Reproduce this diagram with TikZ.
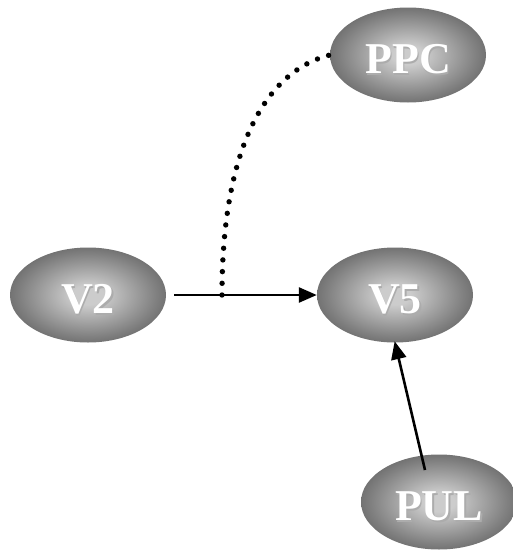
\documentclass[tikz,border=0pt]{standalone}
\usepackage{fontspec}
\setmainfont{Liberation Serif}
\usetikzlibrary{shapes.geometric,arrows.meta}

% grey glow used to fill the brain-area ellipses
\definecolor{areaCore}{gray}{0.80}
\definecolor{areaMid}{gray}{0.50}
\definecolor{areaRim}{gray}{0.27}
\pgfdeclareradialshading{cortex}{\pgfpointorigin}{%
  color(0bp)=(areaCore); color(5bp)=(areaCore);
  color(22bp)=(areaMid); color(36bp)=(areaRim); color(50bp)=(areaRim)}

% white bold label with a soft grey drop shadow
\newcommand{\arealabel}[1]{%
  \makebox[0pt][l]{\kern1.6pt\raisebox{-1.6pt}{\textcolor{gray!65}{#1}}}%
  \textcolor{white}{#1}}

\tikzset{
  area/.style={ellipse, minimum width=156pt, minimum height=95pt,
    inner sep=0pt, shading=cortex, font=\bfseries\fontsize{44}{44}\selectfont,
    text height=37pt, text depth=0pt},
  link/.style={line width=2.6pt, -{Triangle[length=18pt,width=15pt]}},
  dotline/.style={line width=5.4pt, line cap=round,
    dash pattern=on 0pt off 11.7pt}
}

\begin{document}
\begin{tikzpicture}[x=1pt,y=-1pt]
  \path[use as bounding box] (0,0) rectangle (512,552);

  \node[area] (PPC) at (408,55)  {\arealabel{PPC}};
  \node[area] (V2)  at (88,295)  {\arealabel{V2}};
  \node[area] (V5)  at (395,295) {\arealabel{V5}};
  \node[area] (PUL) at (439,502) {\arealabel{PUL}};

  \coordinate (fork) at (222,295);
  \coordinate (pulTail) at (425,470);

  % feed-forward pathways
  \draw[link, shorten <=8pt] (V2.east) -- (V5.west);
  \draw[link, shorten >=-1.5pt] (pulTail) -- (V5.south);

  % modulatory input from PPC
  \draw[dotline] (fork) .. controls (222,140) and (270,70) .. (PPC.west);
\end{tikzpicture}
\end{document}
